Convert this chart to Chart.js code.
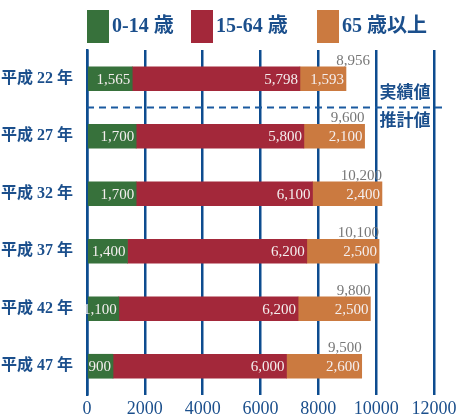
<!DOCTYPE html>
<html><head><meta charset="utf-8">
<script src="https://cdn.jsdelivr.net/npm/chart.js@4/dist/chart.umd.min.js"></script>
<style>html,body{margin:0;padding:0;background:#fff;}canvas{display:block;}</style>
</head><body>
<canvas id="c" width="460" height="417"></canvas>
<script>
const categories = ['平成 22 年','平成 27 年','平成 32 年','平成 37 年','平成 42 年','平成 47 年'];
const seriesNames = ['0-14 歳','15-64 歳','65 歳以上'];
const age0_14 = [1565, 1700, 1700, 1400, 1100, 900];
const age15_64 = [5798, 5800, 6100, 6200, 6200, 6000];
const age65plus = [1593, 2100, 2400, 2500, 2500, 2600];
const totals = [8956, 9600, 10200, 10100, 9800, 9500];
const xTicks = [0, 2000, 4000, 6000, 8000, 10000, 12000];
const colors = ['#37713b', '#a3283a', '#cb7a40'];
const BLUE = '#1b4f8c';
const SERIF = '"Liberation Serif","DejaVu Serif","Noto Sans CJK JP",serif';

const fmt = v => v.toLocaleString('en-US');

const overlay = {
  id: 'overlay',
  afterDatasetsDraw(chart) {
    const ctx = chart.ctx;
    const xs = chart.scales.x, ys = chart.scales.y;
    ctx.save();
    // inner labels
    ctx.font = '15px ' + SERIF;
    ctx.fillStyle = '#f4eeee';
    ctx.textAlign = 'right';
    ctx.textBaseline = 'middle';
    chart.data.datasets.forEach((ds, di) => {
      const meta = chart.getDatasetMeta(di);
      meta.data.forEach((bar, i) => {
        ctx.fillText(fmt(ds.data[i]), bar.x - 2, bar.y + 1);
      });
    });
    // totals
    ctx.fillStyle = '#777777';
    ctx.textBaseline = 'alphabetic';
    const last = chart.getDatasetMeta(2);
    last.data.forEach((bar, i) => {
      const xr = Math.max(bar.x, xs.getPixelForValue(totals[i]));
      ctx.fillText(fmt(totals[i]), i === 0 ? xr + 24 : xr, bar.y - 14);
    });
    // dashed divider between actual and estimate
    const yd = (ys.getPixelForValue(0) + ys.getPixelForValue(1)) / 2;
    ctx.strokeStyle = '#1a5aa0';
    ctx.lineWidth = 2;
    ctx.setLineDash([7, 5]);
    ctx.beginPath();
    ctx.moveTo(xs.left, yd);
    ctx.lineTo(446, yd);
    ctx.stroke();
    ctx.setLineDash([]);
    ctx.font = 'bold 17px ' + SERIF;
    ctx.fillStyle = BLUE;
    ctx.textAlign = 'center';
    ctx.textBaseline = 'middle';
    ctx.fillText('実績値', 405, yd - 14);
    ctx.fillText('推計値', 405, yd + 14);
    // legend
    const lx = [87, 191, 317];
    ctx.textAlign = 'left';
    ctx.font = 'bold 20px ' + SERIF;
    seriesNames.forEach((n, i) => {
      ctx.fillStyle = colors[i];
      ctx.fillRect(lx[i], 10, 22, 33);
      ctx.fillStyle = BLUE;
      ctx.fillText(n, lx[i] + 25, 27);
    });
    ctx.restore();
  }
};

new Chart(document.getElementById('c'), {
  type: 'bar',
  data: {
    labels: categories,
    datasets: [
      { label: seriesNames[0], data: age0_14, backgroundColor: colors[0] },
      { label: seriesNames[1], data: age15_64, backgroundColor: colors[1] },
      { label: seriesNames[2], data: age65plus, backgroundColor: colors[2] }
    ]
  },
  options: {
    indexAxis: 'y',
    responsive: false,
    animation: false,
    datasets: { bar: { barThickness: 24 } },
    layout: { padding: { top: 50, right: 26, left: 0, bottom: 0 } },
    plugins: { legend: { display: false }, tooltip: { enabled: false } },
    scales: {
      x: {
        stacked: true, min: 0, max: 12000,
        afterBuildTicks: s => { s.ticks = xTicks.map(v => ({ value: v })); },
        afterFit: s => { s.height = 22; },
        grid: { color: '#0d4c8f', lineWidth: 2.5, drawTicks: false },
        border: { display: false },
        ticks: { color: BLUE, font: { family: SERIF, size: 18 }, padding: 3, callback: v => String(v) }
      },
      y: {
        stacked: true,
        afterFit: s => { s.width = 87; },
        grid: { display: false },
        border: { display: true, color: '#0d4c8f', width: 2.5 },
        ticks: { color: BLUE, font: { family: SERIF, size: 16, weight: 'bold' }, padding: 6 }
      }
    }
  },
  plugins: [overlay]
});
</script>
</body></html>
